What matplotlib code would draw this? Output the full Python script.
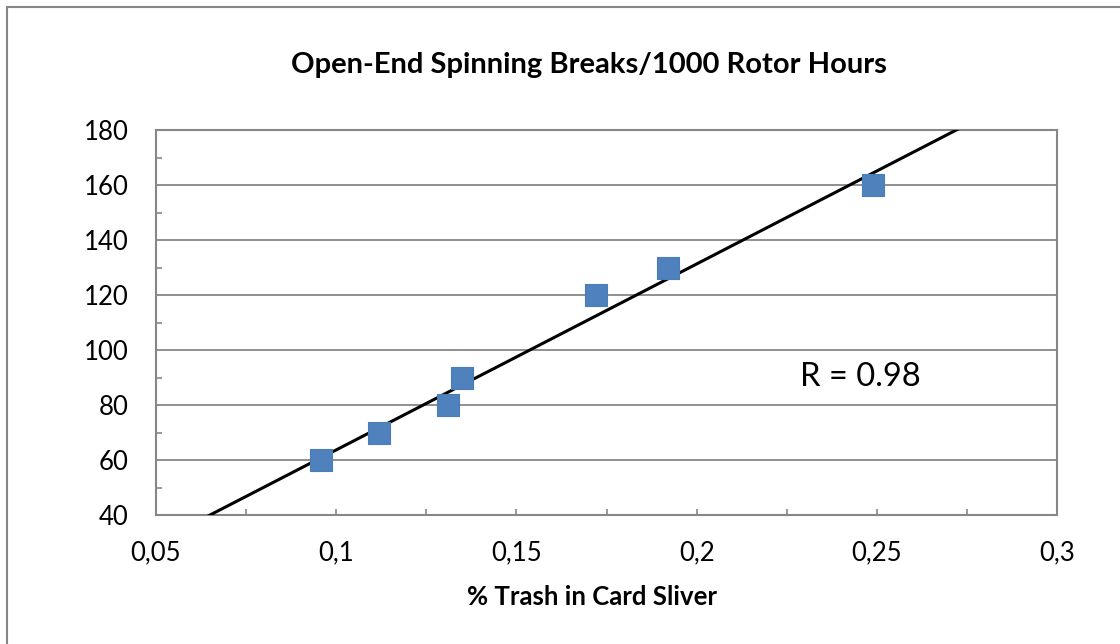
import matplotlib
matplotlib.use("Agg")
import matplotlib.pyplot as plt
import numpy as np
from matplotlib.patches import Rectangle
from matplotlib.ticker import MultipleLocator, FuncFormatter

plt.rcParams['font.family'] = ['Lato', 'DejaVu Sans']

# data
trash_pct = [0.0958, 0.1119, 0.1310, 0.1349, 0.1721, 0.1920, 0.2490]
breaks = [60, 70, 80, 90, 120, 130, 160]

# trend line as drawn in the chart
trend_slope = 677.0
trend_intercept = -4.0

title = "Open-End Spinning Breaks/1000 Rotor Hours"
xlabel = "% Trash in Card Sliver"
r_label = "R = 0.98"

grey = "#878787"

fig = plt.figure(figsize=(11.2, 6.44), dpi=100)
ax = fig.add_axes([0.1393, 0.2003, 0.8045, 0.5971])

# outer chart border (only left/top visible in the frame)
fig.patches.append(Rectangle((6.5 / 1120, -0.1), 1.2, 1.1 - 6.5 / 644,
                             transform=fig.transFigure, fill=False,
                             edgecolor=grey, linewidth=1.5))

ax.set_xlim(0.05, 0.3)
ax.set_ylim(40, 180)

ax.yaxis.set_major_locator(MultipleLocator(20))
ax.yaxis.set_minor_locator(MultipleLocator(10))
ax.xaxis.set_major_locator(MultipleLocator(0.05))
ax.xaxis.set_minor_locator(MultipleLocator(0.025))

ax.grid(axis='y', which='major', color=grey, linewidth=1.3)
ax.set_axisbelow(True)

for s in ax.spines.values():
    s.set_color(grey)
    s.set_linewidth(1.5)

ax.tick_params(axis='y', which='major', length=0, pad=20, labelsize=18.5)
ax.tick_params(axis='y', which='minor', direction='in', length=4.5,
               width=1.2, color=grey)
ax.tick_params(axis='x', which='both', direction='in', length=4.5,
               width=1.2, color=grey, pad=18, labelsize=18.5)

ax.xaxis.set_major_formatter(FuncFormatter(lambda v, p: ('%g' % round(v, 3)).replace('.', ',')))

xs = np.array([0.0, 0.4])
ax.plot(xs, trend_slope * xs + trend_intercept, color='black', linewidth=2.2,
        zorder=3)
ax.scatter(trash_pct, breaks, marker='s', s=270, color='#4f81bd',
           edgecolors='#4a7ebb', linewidths=0.8, zorder=4)

ax.text(0.2453, 90.3, r_label, fontsize=23.5, ha='center', va='center')

fig.text(0.526, 0.899, title, fontsize=21, fontweight='bold',
         ha='center', va='center')
fig.text(0.529, 0.073, xlabel, fontsize=18.5, fontweight='bold',
         ha='center', va='center')

fig.savefig("out.png", dpi=100)
